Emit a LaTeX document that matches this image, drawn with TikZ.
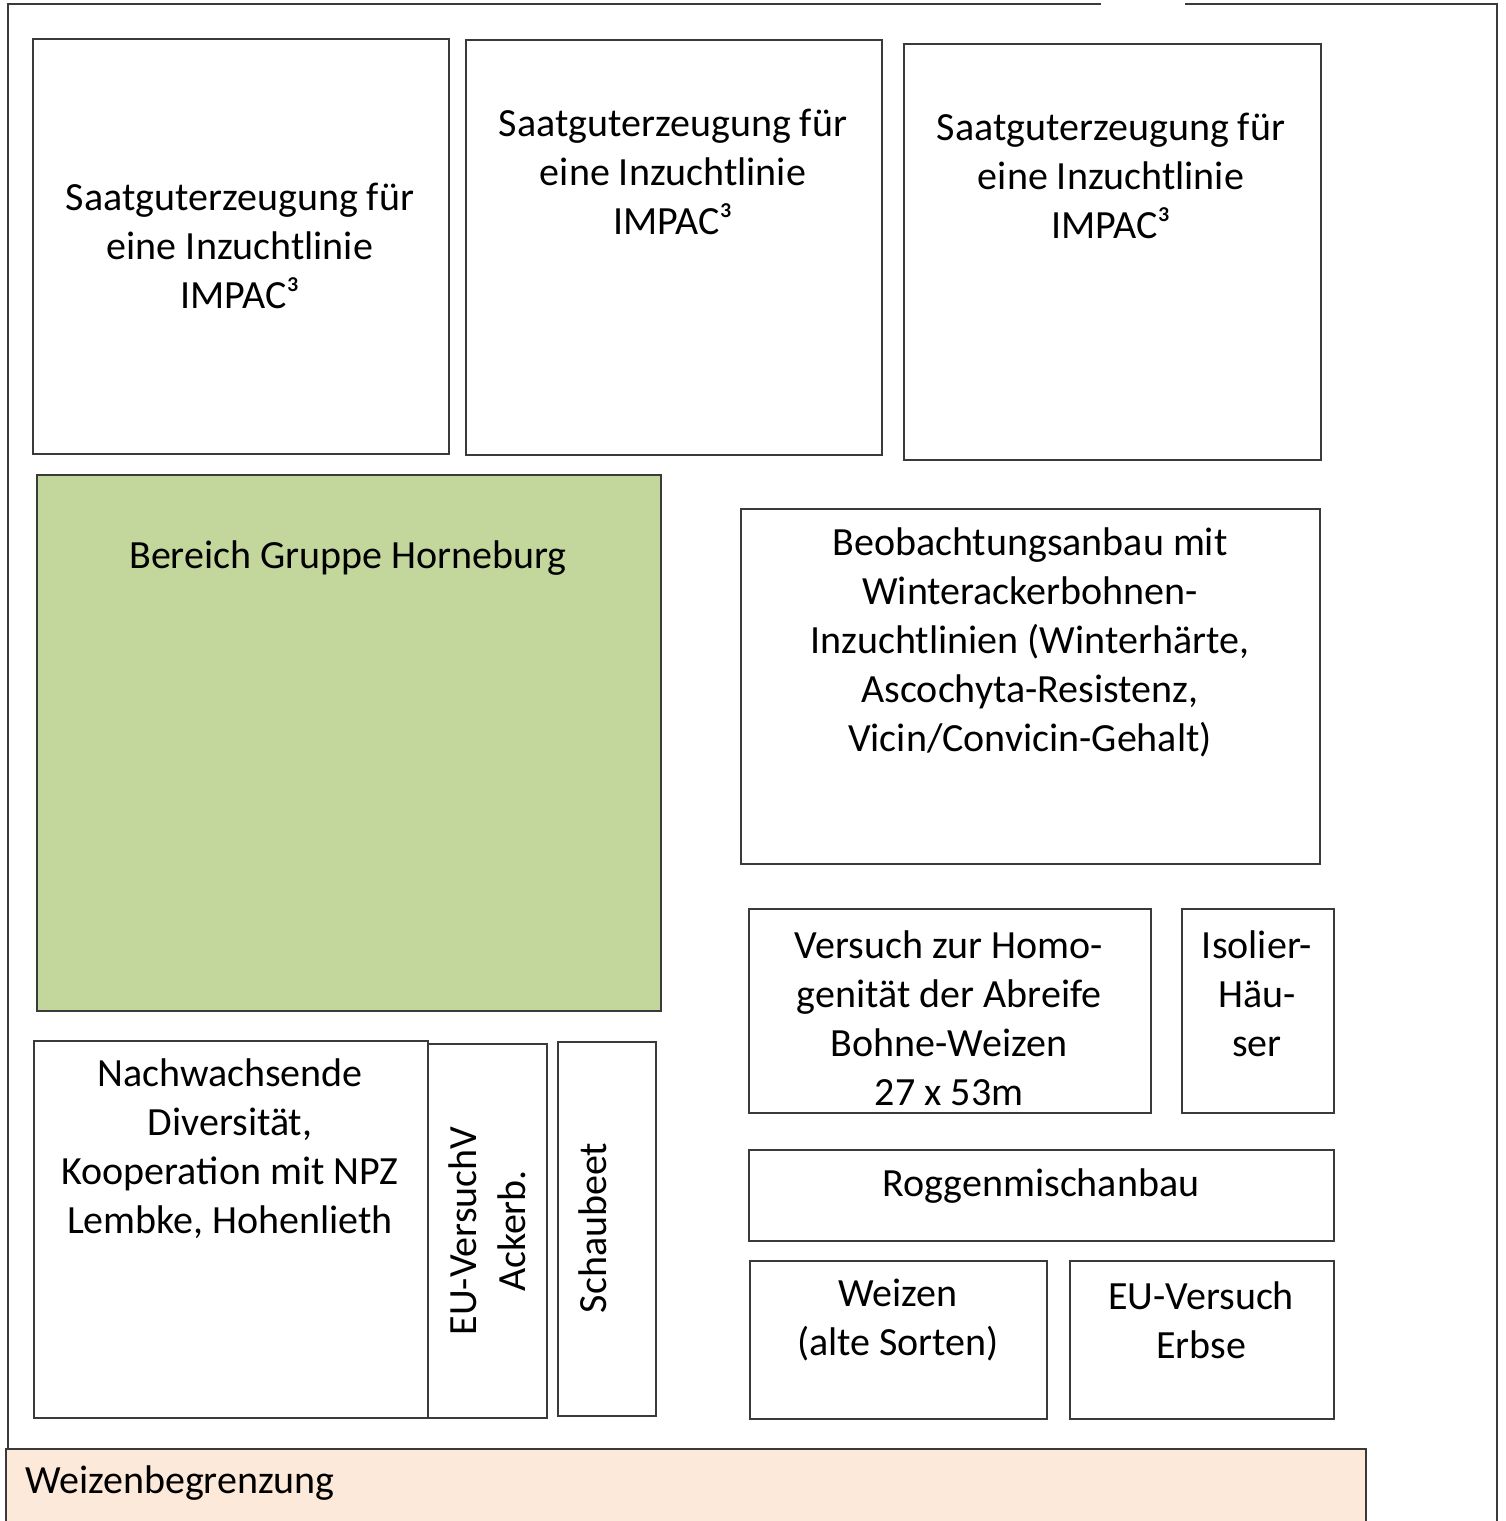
\documentclass[tikz,border=0pt]{standalone}
\usepackage{fontspec}
\setmainfont{Carlito}
\definecolor{lineg}{HTML}{3A3A3A}
\definecolor{greenf}{HTML}{C3D69B}
\definecolor{peachf}{HTML}{FDE9D9}
\begin{document}
\begin{tikzpicture}[x=1pt,y=-1pt,
  box/.style={draw=lineg,line width=1.5pt,anchor=north west,inner sep=0pt},
  lbl/.style={align=center,inner sep=0pt,font=\fontsize{40}{49}\selectfont},
  frame/.style={draw=lineg,line width=1.5pt}]
\useasboundingbox (0,0) rectangle (1505,1521);
% outer frame
\coordinate (f1) at (8,1448);
\coordinate (f2) at (8,4);
\coordinate (f3) at (1101,4);
\coordinate (f4) at (1185,4);
\coordinate (f5) at (1497,4);
\coordinate (f6) at (1497,1530);
\draw[frame] (f1) -- (f2) -- (f3);
\draw[frame] (f4) -- (f5) -- (f6);
% boxes
\node[box,minimum width=416pt,minimum height=415pt] (A) at (32,38) {};
\node[box,minimum width=416pt,minimum height=415pt] (B) at (465,39) {};
\node[box,minimum width=417pt,minimum height=416pt] (C) at (903,43) {};
\node[box,fill=greenf,minimum width=624pt,minimum height=536pt] (G) at (36,474) {};
\node[box,minimum width=579pt,minimum height=355pt] (Bb) at (740,508) {};
\node[box,minimum width=402pt,minimum height=204pt] (H) at (748,908) {};
\node[box,minimum width=152pt,minimum height=204pt] (I) at (1181,908) {};
\node[box,minimum width=585pt,minimum height=91pt] (R) at (748,1149) {};
\node[box,minimum width=297pt,minimum height=158pt] (W) at (749,1260) {};
\node[box,minimum width=264pt,minimum height=158pt] (E) at (1069,1260) {};
\node[box,minimum width=394pt,minimum height=377pt] (N) at (33,1040) {};
\node[box,minimum width=119pt,minimum height=374pt] (V) at (427,1043) {};
\node[box,minimum width=98pt,minimum height=374pt] (S) at (557,1041) {};
\node[box,fill=peachf,minimum width=1360pt,minimum height=90pt] (P) at (5,1448) {};
% labels
\node[lbl] (tA) at (240,246) {Saatguterzeugung für\\eine Inzuchtlinie\\IMPAC³};
\node[lbl] (tB) at (673,172) {Saatguterzeugung für\\eine Inzuchtlinie\\IMPAC³};
\node[lbl] (tC) at (1111,176) {Saatguterzeugung für\\eine Inzuchtlinie\\IMPAC³};
\node[lbl] (tG) at (348,558) {Bereich Gruppe Horneburg};
\node[lbl] (tBb) at (1030,642) {Beobachtungsanbau mit\\Winterackerbohnen-\\Inzuchtlinien (Winterhärte,\\Ascochyta-Resistenz,\\Vicin/Convicin-Gehalt)};
\node[lbl] (tH) at (949,1018) {Versuch zur Homo-\\genität der Abreife\\Bohne-Weizen\\27 x 53m};
\node[lbl] (tI) at (1257,994) {Isolier-\\Häu-\\ser};
\node[lbl] (tR) at (1041,1186) {Roggenmischanbau};
\node[lbl] (tW) at (898,1320) {Weizen\\(alte Sorten)};
\node[lbl] (tE) at (1201,1320) {EU-Versuch\\Erbse};
\node[lbl] (tN) at (230,1149) {Nachwachsende\\Diversität,\\Kooperation mit NPZ\\Lembke, Hohenlieth};
\node[lbl,rotate=90] (tV) at (487,1231) {EU-VersuchV\\Ackerb.};
\node[lbl,rotate=90] (tS) at (593,1228) {Schaubeet};
\node[lbl,anchor=west] (tP) at (25,1483) {Weizenbegrenzung};
\end{tikzpicture}
\end{document}
